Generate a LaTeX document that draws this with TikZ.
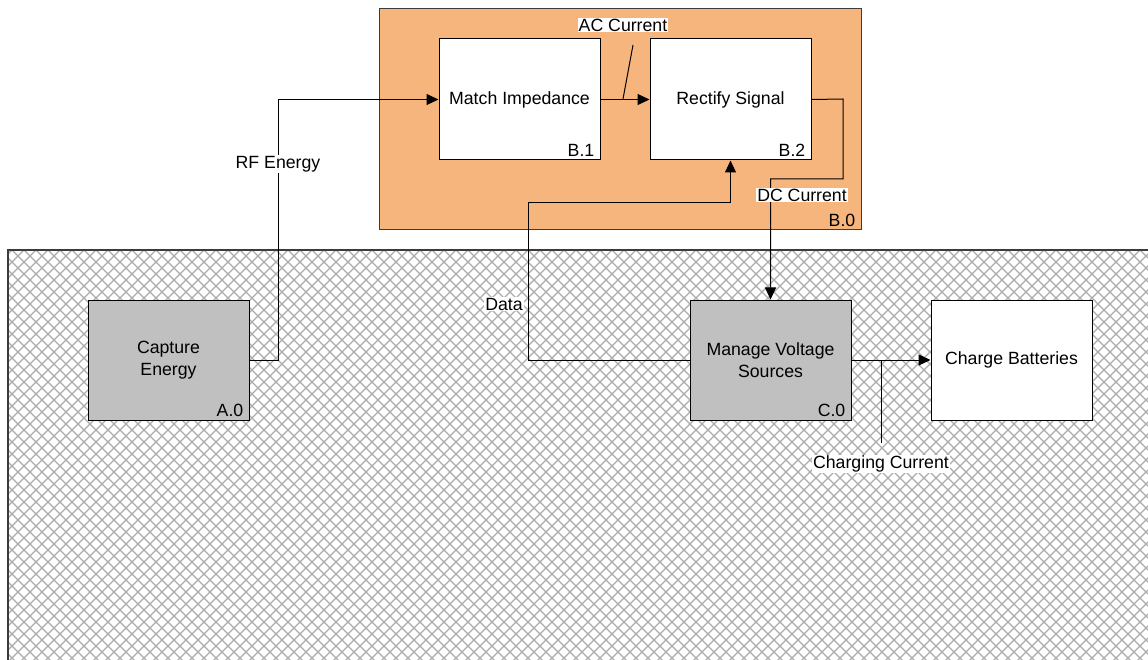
\documentclass[tikz,border=0pt]{standalone}
\usepackage{fontspec}
\setmainfont{Liberation Sans}
\usetikzlibrary{arrows.meta}
\definecolor{orangebg}{RGB}{247,181,126}
\definecolor{boxgray}{RGB}{192,192,192}
\definecolor{hatchgray}{RGB}{172,172,172}
\definecolor{edgegray}{RGB}{60,60,60}
\tikzset{
  proc/.style={draw=black, line width=1pt, minimum width=161pt, minimum height=121pt, inner sep=0pt, align=center, font=\fontsize{17.7}{22}\selectfont},
  grayproc/.style={proc, fill=boxgray},
  whiteproc/.style={proc, fill=white},
  tag/.style={anchor=south east, inner sep=0pt, font=\fontsize{17.7}{22}\selectfont},
  lbl/.style={fill=white, inner sep=1pt, font=\fontsize{17.7}{22}\selectfont},
  conn/.style={draw=black, line width=1pt},
  arr/.style={conn, -{Triangle[length=12pt,width=11pt]}},
  hatchline/.style={draw=hatchgray, line width=1.3pt}
}
\begin{document}
\begin{tikzpicture}[x=1pt,y=-1pt]
\useasboundingbox (0,0) rectangle (1148,660);
\fill[white] (0,0) rectangle (1148,660);
% hatched region
\begin{scope}
  \clip (8,250) rectangle (1150,662);
  \foreach \a in {-420,-408,...,1580} {
    \draw[hatchline] (\a,250) -- ++(420,420);
    \draw[hatchline] (\a,250) -- ++(-420,420);
  }
\end{scope}
\draw[edgegray, line width=1.2pt] (8,662) -- (8,250) -- (1150,250);
% B.0 container
\node[draw=edgegray, line width=1pt, fill=orangebg, minimum width=482pt, minimum height=221pt, inner sep=0pt] (B0) at (620,119.5) {};
\node[tag] (B0t) at ([xshift=-6pt,yshift=4pt]B0.south east) {B.0};
% process boxes
\node[whiteproc] (B1) at (519.5,99.5) {Match Impedance};
\node[tag] (B1t) at ([xshift=-6pt,yshift=4pt]B1.south east) {B.1};
\node[whiteproc] (B2) at (730.5,99.5) {Rectify Signal};
\node[tag] (B2t) at ([xshift=-6pt,yshift=4pt]B2.south east) {B.2};
\node[grayproc, minimum height=120pt] (A0) at (168.5,360) {Capture\\Energy};
\node[tag] (A0t) at ([xshift=-6pt,yshift=4pt]A0.south east) {A.0};
\node[grayproc, minimum height=120pt] (C0) at (770.5,360) {Manage Voltage\\Sources};
\node[tag] (C0t) at ([xshift=-6pt,yshift=4pt]C0.south east) {C.0};
\node[whiteproc, minimum height=120pt] (CB) at (1011.5,360) {Charge Batteries};
% RF Energy
\draw[arr] (A0.east) -- ++(29,0) |- (B1.west);
\node[lbl] (rf) at (278,164) {RF Energy};
% AC Current
\draw[arr] (B1.east) -- (B2.west);
\coordinate (acfoot) at (623,99);
\node[lbl] (ac) at (623,25) {AC Current};
\draw[conn] (acfoot) -- (633,45);
% DC Current
\draw[arr] (B2.east) -- (843,99) -- (843,179) -- (770.5,179) -- (C0.north);
\node[lbl] (dc) at (802,195) {DC Current};
% Data
\draw[arr] (C0.west) -- (528,360) -- (528,203) -- (730.5,203) -- (B2.south);
\node[lbl] (data) at (504,304) {Data};
% Charging Current
\draw[arr] (C0.east) -- (CB.west);
\coordinate (ccfoot) at (881,360);
\coordinate (cctop) at (881,443);
\draw[conn] (ccfoot) -- (cctop);
\node[lbl] (cc) at (881,464) {Charging Current};
\end{tikzpicture}
\end{document}
